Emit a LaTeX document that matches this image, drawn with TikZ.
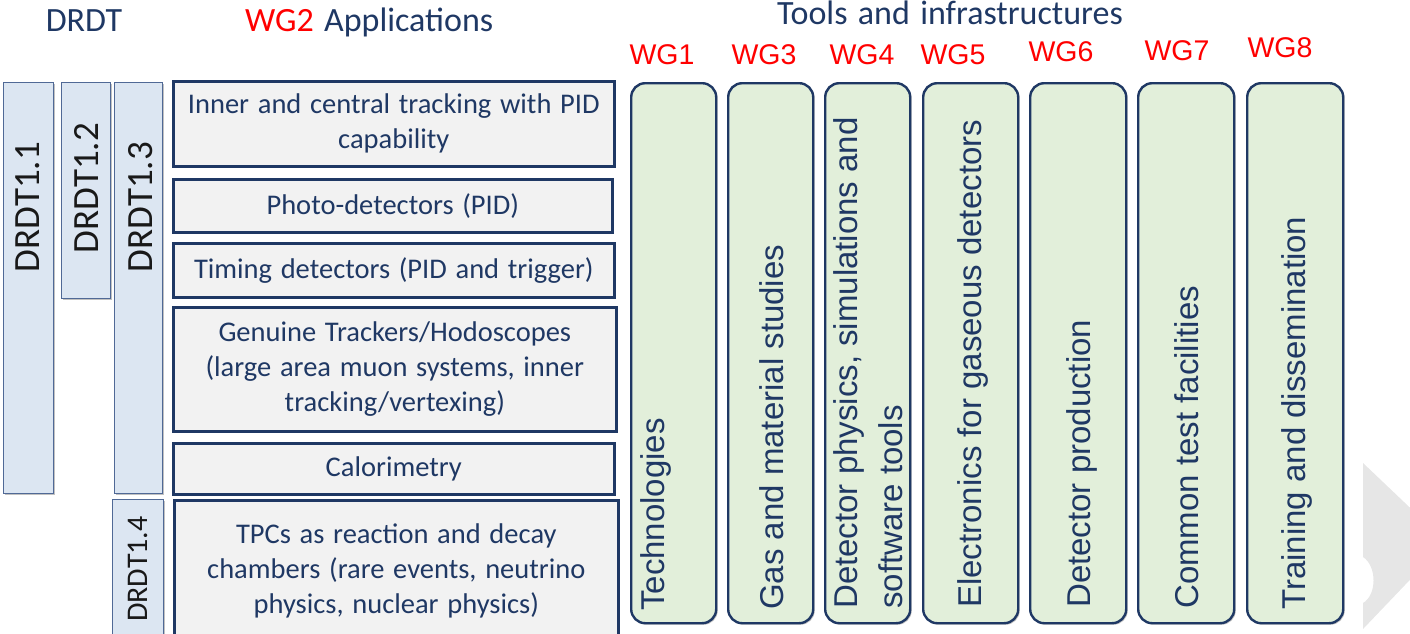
\documentclass[tikz,border=0pt]{standalone}
\usepackage{fontspec}
\setmainfont{Carlito}[WordSpace=1.35]
\newfontfamily\arialf{Liberation Sans}
\usetikzlibrary{shadows}
\definecolor{navy}{RGB}{31,56,100}
\definecolor{wgred}{RGB}{255,0,0}
\definecolor{appfill}{RGB}{242,242,242}
\definecolor{wgfill}{RGB}{226,239,218}
\definecolor{drdtfill}{RGB}{220,230,242}
\definecolor{drdtline}{RGB}{80,105,150}
\definecolor{chev}{RGB}{230,230,230}
\begin{document}
\begin{tikzpicture}[x=1pt,y=-1pt,
  shad/.style={drop shadow={shadow xshift=1.5pt,shadow yshift=-1.5pt,opacity=.35,fill=black!70}},
  appbox/.style={shad,draw=navy,line width=2.6pt,fill=appfill,anchor=north west,inner sep=0pt,
    align=center,text=navy,font=\fontsize{28.5}{35}\selectfont},
  wgbox/.style={shad,draw=navy,line width=2.4pt,fill=wgfill,rounded corners=14pt,anchor=north west,
    inner sep=0pt,minimum height=540},
  drdtbar/.style={shad,draw=drdtline,line width=1.4pt,fill=drdtfill,anchor=north west,inner sep=0pt},
  drdttext/.style={rotate=90,inner sep=0pt,text=black!90,font=\fontsize{37}{40}\selectfont},
  wgtext/.style={rotate=90,anchor=base west,inner sep=0pt,text=navy,font=\arialf\fontsize{33}{40}\selectfont},
  wglab/.style={anchor=base,inner sep=0pt,text=wgred,font=\arialf\fontsize{28.5}{32}\selectfont},
  hdr/.style={inner sep=0pt,text=navy,font=\fontsize{34}{38}\selectfont}]
\useasboundingbox (0,0) rectangle (1410,634);
\clip (0,0) rectangle (1410,634);

% headers
\node[hdr,anchor=base] (hd) at (84,32) {DRDT};
\node[hdr,anchor=base west] (ha) at (245,32) {\textcolor{wgred}{WG2} Applications};
\node[hdr,anchor=base] (ht) at (950,25) {Tools and infrastructures};

% WG labels
\node[wglab] (l1) at (662,65) {WG1};
\node[wglab] (l3) at (764,64) {WG3};
\node[wglab] (l4) at (862,64) {WG4};
\node[wglab] (l5) at (953,65) {WG5};
\node[wglab] (l6) at (1061,62) {WG6};
\node[wglab] (l7) at (1177,60) {WG7};
\node[wglab] (l8) at (1280,58) {WG8};

% DRDT bars
\node[drdtbar,minimum width=50,minimum height=411] (d1) at (3,82) {};
\node[drdtbar,minimum width=49,minimum height=216] (d2) at (61,82) {};
\node[drdtbar,minimum width=48,minimum height=411] (d3) at (114,82) {};
\node[drdtbar,minimum width=51,minimum height=160] (d4) at (112,499) {};
\node[drdttext] (dt1) at (28,207) {DRDT1.1};
\node[drdttext] (dt2) at (87,188) {DRDT1.2};
\node[drdttext] (dt3) at (141,207) {DRDT1.3};
\node[drdttext,font=\fontsize{30}{34}\selectfont] (dt4) at (138,569) {DRDT1.4};

% application boxes
\node[appbox,minimum width=441,minimum height=85] (a1) at (172,80) {Inner and central tracking with PID\\capability};
\node[appbox,minimum width=439,minimum height=53] (a2) at (172,178) {Photo-detectors (PID)};
\node[appbox,minimum width=441,minimum height=54] (a3) at (172,242) {Timing detectors (PID and trigger)};
\node[appbox,minimum width=443,minimum height=124] (a4) at (172,306) {Genuine Trackers/Hodoscopes\\(large area muon systems, inner\\tracking/vertexing)};
\node[appbox,minimum width=441,minimum height=51] (a5) at (172,442) {Calorimetry};
\node[appbox,minimum width=444,minimum height=141] (a6) at (173,499) {TPCs as reaction and decay\\chambers (rare events, neutrino\\physics, nuclear physics)};

% WG boxes
\node[wgbox,minimum width=85] (w1) at (630,82) {};
\node[wgbox,minimum width=85] (w3) at (727,82) {};
\node[wgbox,minimum width=85] (w4) at (824,82) {};
\node[wgbox,minimum width=95] (w5) at (922,82) {};
\node[wgbox,minimum width=96] (w6) at (1029,82) {};
\node[wgbox,minimum width=96] (w7) at (1137,82) {};
\node[wgbox,minimum width=96] (w8) at (1246,82) {};

\node[wgtext] (t1) at (664,611) {Technologies};
\node[wgtext] (t3) at (783,610) {Gas and material studies};
\node[wgtext] (t4a) at (857,609) {Detector physics, simulations and};
\node[wgtext] (t4b) at (902,609) {software tools};
\node[wgtext] (t5) at (981,608) {Electronics for gaseous detectors};
\node[wgtext] (t6) at (1090,608) {Detector production};
\node[wgtext] (t7) at (1198,609) {Common test facilities};
\node[wgtext] (t8) at (1305,610) {Training and dissemination};

% chevron at right edge
\fill[chev] (1363,463) -- (1446,542) -- (1363,629) -- (1363,603)
  .. controls (1377,595) and (1377,566) .. (1363,557) -- cycle;
\end{tikzpicture}
\end{document}
